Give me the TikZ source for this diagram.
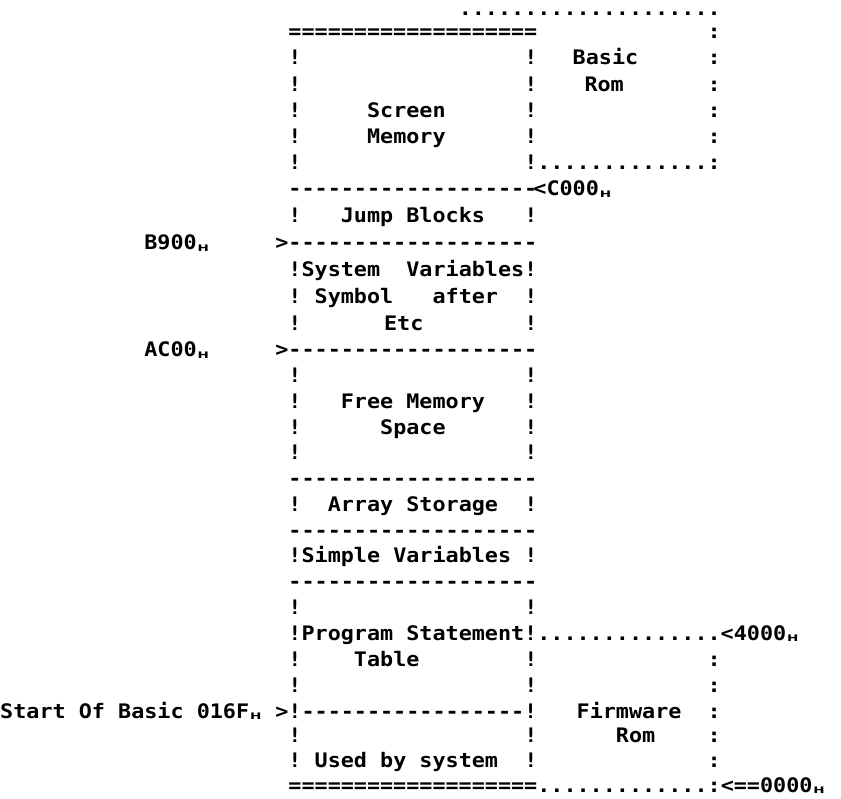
\documentclass[tikz,border=0pt]{standalone}
\usepackage{fontspec}
\setmonofont{DejaVu Sans Mono}[FakeStretch=1.088]
\newfontfamily\hfont{DejaVu Sans}[FakeStretch=1.5]
\def\ys{{16,39,65,91.2,117.4,143.6,169.8,196,222.8,249.7,276.5,303.3,330.2,357,382.7,408.5,434.2,459.9,485.6,511.4,537.1,562.8,588.5,614.3,640,666,692,718,742.7,767.3,792}}
\tikzset{
  txt/.style={anchor=base west,inner sep=0pt,outer sep=0pt,font=\ttfamily\bfseries\fontsize{20}{20}\selectfont},
  hsubsty/.style={anchor=base,inner sep=0pt,outer sep=0pt,font=\hfont\bfseries\fontsize{9}{9}\selectfont}
}
\newcommand\seg[5][]{\pgfmathsetmacro\segx{0.25+#3*13.1}\pgfmathsetmacro\segy{\ys[#4]}\node[txt,#1] (#2) at (\segx pt,-\segy pt) {#5};}
\newcommand\hsub[3]{\pgfmathsetmacro\segx{0.25+#2*13.1+6.55}\pgfmathsetmacro\segy{\ys[#3]+1.5}\node[hsubsty] (#1) at (\segx pt,-\segy pt) {H};}
\begin{document}
\begin{tikzpicture}
\fill[white] (0pt,0pt) rectangle (841pt,-799pt);
\useasboundingbox (0pt,0pt) rectangle (841pt,-799pt);
% row 0
\seg[text height=5pt]{topdots}{35}{0}{....................}
% row 1
\seg{topeq}{22}{1}{===================}
\seg{c1}{54}{1}{:}
% row 2
\seg{l2}{22}{2}{!}\seg{r2}{40}{2}{!}\seg{basic}{43.7}{2}{Basic}\seg{c2}{54}{2}{:}
% row 3
\seg{l3}{22}{3}{!}\seg{r3}{40}{3}{!}\seg{rom1}{44.6}{3}{Rom}\seg{c3}{54}{3}{:}
% row 4
\seg{l4}{22}{4}{!}\seg{screen}{28}{4}{Screen}\seg{r4}{40}{4}{!}\seg{c4}{54}{4}{:}
% row 5
\seg{l5}{22}{5}{!}\seg{memory}{28}{5}{Memory}\seg{r5}{40}{5}{!}\seg{c5}{54}{5}{:}
% row 6
\seg{l6}{22}{6}{!}\seg{r6}{40}{6}{!.............:}
% row 7
\seg{d7}{22}{7}{-------------------}
\seg{c000}{40.7}{7}{<C000}\hsub{h7}{45.7}{7}
% row 8
\seg{l8}{22}{8}{!}\seg{jump}{26}{8}{Jump}\seg{blocks}{31}{8}{Blocks}\seg{r8}{40}{8}{!}
% row 9
\seg{b900}{11}{9}{B900}\hsub{h9}{15}{9}\seg{d9}{21}{9}{>-------------------}
% row 10
\seg{sys}{22}{10}{!System}\seg{vars}{31}{10}{Variables!}
% row 11
\seg{l11}{22}{11}{!}\seg{symbol}{24}{11}{Symbol}\seg{after}{33}{11}{after}\seg{r11}{40}{11}{!}
% row 12
\seg{l12}{22}{12}{!}\seg{etc}{29.3}{12}{Etc}\seg{r12}{40}{12}{!}
% row 13
\seg{ac00}{11}{13}{AC00}\hsub{h13}{15}{13}\seg{d13}{21}{13}{>-------------------}
% row 14
\seg{l14}{22}{14}{!}\seg{r14}{40}{14}{!}
% row 15
\seg{l15}{22}{15}{!}\seg{free}{26}{15}{Free}\seg{memory2}{31}{15}{Memory}\seg{r15}{40}{15}{!}
% row 16
\seg{l16}{22}{16}{!}\seg{space}{29}{16}{Space}\seg{r16}{40}{16}{!}
% row 17
\seg{l17}{22}{17}{!}\seg{r17}{40}{17}{!}
% row 18
\seg{d18}{22}{18}{-------------------}
% row 19
\seg{l19}{22}{19}{!}\seg{array}{25}{19}{Array}\seg{storage}{31}{19}{Storage}\seg{r19}{40}{19}{!}
% row 20
\seg{d20}{22}{20}{-------------------}
% row 21
\seg{simple}{22}{21}{!Simple}\seg{vars2}{30}{21}{Variables}\seg{r21}{40}{21}{!}
% row 22
\seg{d22}{22}{22}{-------------------}
% row 23
\seg{l23}{22}{23}{!}\seg{r23}{40}{23}{!}
% row 24
\seg{program}{22}{24}{!Program}\seg{statement}{31}{24}{Statement!..............<4000}\hsub{h24}{60}{24}
% row 25
\seg{l25}{22}{25}{!}\seg{table}{27}{25}{Table}\seg{r25}{40}{25}{!}\seg{c25}{54}{25}{:}
% row 26
\seg{l26}{22}{26}{!}\seg{r26}{40}{26}{!}\seg{c26}{54}{26}{:}
% row 27
\seg{start}{0}{27}{Start}\seg{of}{6}{27}{Of}\seg{basic2}{9}{27}{Basic}\seg{a016f}{15}{27}{016F}\hsub{h27}{19}{27}
\seg{d27}{21}{27}{>!-----------------!}\seg{firmware}{44}{27}{Firmware}\seg{c27}{54}{27}{:}
% row 28
\seg{l28}{22}{28}{!}\seg{r28}{40}{28}{!}\seg{rom2}{47}{28}{Rom}\seg{c28}{54}{28}{:}
% row 29
\seg{l29}{22}{29}{!}\seg{used}{24}{29}{Used}\seg{by}{29}{29}{by}\seg{system}{32}{29}{system}\seg{r29}{40}{29}{!}\seg{c29}{54}{29}{:}
% row 30
\seg{boteq}{22}{30}{===================.............:}
\seg{zero}{55}{30}{<==0000}\hsub{h30}{62}{30}
\end{tikzpicture}
\end{document}
